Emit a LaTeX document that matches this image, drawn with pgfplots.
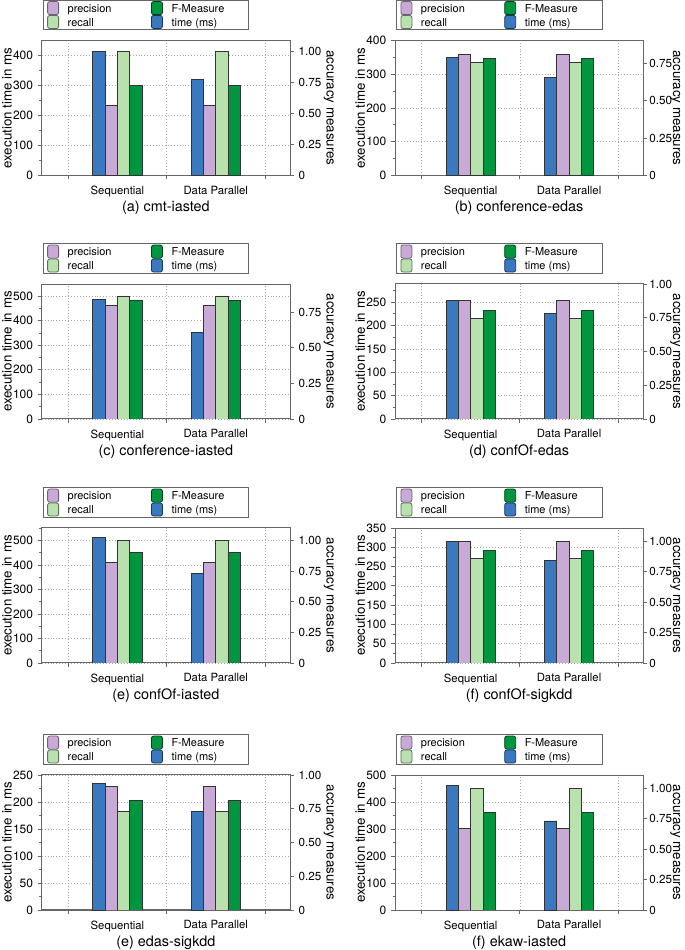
\documentclass[border=0pt]{standalone}
\usepackage{pgfplots}
\pgfplotsset{compat=1.18}
\usepackage{fontspec}
\setmainfont{TeX Gyre Heros}

\definecolor{timeC}{HTML}{3A79BF}
\definecolor{precC}{HTML}{C9AAD7}
\definecolor{recC}{HTML}{B8E1AE}
\definecolor{fmC}{HTML}{00953F}
\definecolor{axC}{HTML}{666666}
\definecolor{barline}{HTML}{333333}

% legend text cell of fixed width
\newcommand\leg[2]{\hspace*{6.5pt}\makebox[#2][l]{\rule[-3.2pt]{0pt}{10.8pt}#1}}

\pgfplotsset{
  panel/.style={
    scale only axis, width=186.2pt, height=101.25pt, anchor=south west,
    xmin=0.23, xmax=2.755, ymin=0,
    /pgf/number format/assume math mode=true,
    tick label style={font=\fontsize{9}{10}\selectfont},
    label style={font=\fontsize{9}{10}\selectfont},
    axis line style={axC, line width=0.75pt},
    tick style={axC, line width=0.6pt},
    tick align=outside,
    major tick length=3pt, minor tick length=1.8pt,
  },
  timeax/.style={panel,
    xtick={0.5,1.5,2.5}, xticklabels={}, xtick pos=left,
    extra x ticks={1,2}, extra x tick labels={Sequential,Data Parallel},
    extra x tick style={major tick length=0pt, grid=none,
      tick label style={font=\fontsize{8.5}{10}\selectfont, yshift=-4.5pt}},
    xmajorgrids, ymajorgrids,
    grid style={gray!70, line width=0.5pt, dash pattern=on 0.6pt off 1.6pt},
    ytick pos=left, minor y tick num=1,
    ylabel={execution time in ms},
    every axis y label/.style={at={(axis description cs:0,0.5)}, xshift=-26pt,
      rotate=90, anchor=center},
    every axis title/.style={at={(axis description cs:0.5,0)}, anchor=center,
      yshift=-24.5pt, font=\fontsize{10.8}{12}\selectfont},
  },
  accax/.style={panel,
    axis x line=none, axis y line*=right,
    ytick={0,0.25,0.5,0.75,1}, yticklabels={0,0.25,0.50,0.75,1.00},
    ylabel={accuracy measures},
    legend columns=2, legend cell align=left,
    legend style={at={(axis description cs:0,1)}, anchor=south west,
      xshift=0.75pt, yshift=7.5pt, draw=axC, line width=0.75pt,
      inner xsep=3pt, inner ysep=0.8pt, row sep=0pt, column sep=0pt,
      font=\fontsize{8.25}{10}\selectfont, nodes={inner sep=0pt}},
  },
  swatch/.style={legend image code/.code={%
    \draw[##1, rounded corners=1.6pt, line width=0.6pt] (0pt,-4.9pt) rectangle (8.25pt,4.9pt);}},
  accbar/.style={ybar, bar width=0.125, draw=barline, line width=0.6pt, forget plot},
}

% #1 x, #2 y, #3 ymax, #4 tick step, #5 caption, #6 time coordinates
\newcommand\timeaxis[6]{%
  \begin{axis}[timeax, at={(#1,#2)}, ymax=#3, ytick distance=#4, title={#5}]
    \addplot[ybar, bar width=0.125, bar shift=-0.1875, fill=timeC, draw=barline,
      line width=0.6pt] coordinates {#6};
  \end{axis}}

% #1 x, #2 y, #3 ymax, #4 precision, #5 recall, #6 F-measure,
% #7 label shift, #8 tick label shift
\newcommand\accaxis[8]{%
  \begin{axis}[accax, at={(#1,#2)}, ymax=#3,
      yticklabel style={xshift=#8, font=\fontsize{8.75}{10}\selectfont},
      every axis y label/.style={at={(axis description cs:1,0.5)}, xshift=#7,
        rotate=-90, anchor=center}]
    \addplot[accbar, bar shift=-0.0625, fill=precC] coordinates {#4};
    \addplot[accbar, bar shift=0.0625, fill=recC] coordinates {#5};
    \addplot[accbar, bar shift=0.1875, fill=fmC] coordinates {#6};
    \addlegendimage{swatch, fill=precC, draw=precC!55!black}
    \addlegendentry{\leg{precision}{62.5pt}}
    \addlegendimage{swatch, fill=fmC, draw=fmC!45!black}
    \addlegendentry{\leg{F-Measure}{55pt}}
    \addlegendimage{swatch, fill=recC, draw=recC!50!black}
    \addlegendentry{\leg{recall}{62.5pt}}
    \addlegendimage{swatch, fill=timeC, draw=timeC!45!black}
    \addlegendentry{\leg{time (ms)}{55pt}}
  \end{axis}}

\begin{document}
\begin{tikzpicture}
\path[use as bounding box] (0,0) rectangle (513.75pt,712.5pt);

% row 1
\timeaxis{31.3pt}{580.9pt}{448}{100}{(a) cmt-iasted}{(1,412) (2,319)}
\accaxis{31.3pt}{580.9pt}{1.09}{(1,0.569) (2,0.569)}{(1,1.0) (2,1.0)}{(1,0.725) (2,0.725)}{29pt}{0pt}
\timeaxis{296.25pt}{580.9pt}{400}{100}{(b) conference-edas}{(1,351) (2,290)}
\accaxis{296.25pt}{580.9pt}{0.904}{(1,0.810) (2,0.810)}{(1,0.759) (2,0.759)}{(1,0.786) (2,0.786)}{24pt}{-2pt}

% row 2
\timeaxis{31.3pt}{398.25pt}{549}{100}{(c) conference-iasted}{(1,488) (2,351)}
\accaxis{31.3pt}{398.25pt}{0.946}{(1,0.799) (2,0.799)}{(1,0.862) (2,0.862)}{(1,0.829) (2,0.829)}{29pt}{0pt}
\timeaxis{296.25pt}{398.25pt}{289}{50}{(d) confOf-edas}{(1,254) (2,226)}
\accaxis{296.25pt}{398.25pt}{1.0}{(1,0.879) (2,0.879)}{(1,0.743) (2,0.743)}{(1,0.805) (2,0.805)}{24pt}{-2pt}

% row 3
\timeaxis{31.3pt}{215.25pt}{551}{100}{(e) confOf-iasted}{(1,511) (2,366)}
\accaxis{31.3pt}{215.25pt}{1.10}{(1,0.816) (2,0.816)}{(1,1.0) (2,1.0)}{(1,0.899) (2,0.899)}{29pt}{0pt}
\timeaxis{296.25pt}{215.25pt}{350}{50}{(f) confOf-sigkdd}{(1,315) (2,266)}
\accaxis{296.25pt}{215.25pt}{1.11}{(1,1.0) (2,1.0)}{(1,0.858) (2,0.858)}{(1,0.924) (2,0.924)}{24pt}{-2pt}

% row 4
\timeaxis{31.3pt}{30pt}{250}{50}{(e) edas-sigkdd}{(1,235) (2,183)}
\accaxis{31.3pt}{30pt}{1.0}{(1,0.914) (2,0.914)}{(1,0.728) (2,0.728)}{(1,0.812) (2,0.812)}{29pt}{0pt}
\timeaxis{296.25pt}{30pt}{500}{100}{(f) ekaw-iasted}{(1,460) (2,330)}
\accaxis{296.25pt}{30pt}{1.11}{(1,0.671) (2,0.671)}{(1,1.0) (2,1.0)}{(1,0.803) (2,0.803)}{24pt}{-2pt}
\end{tikzpicture}
\end{document}
